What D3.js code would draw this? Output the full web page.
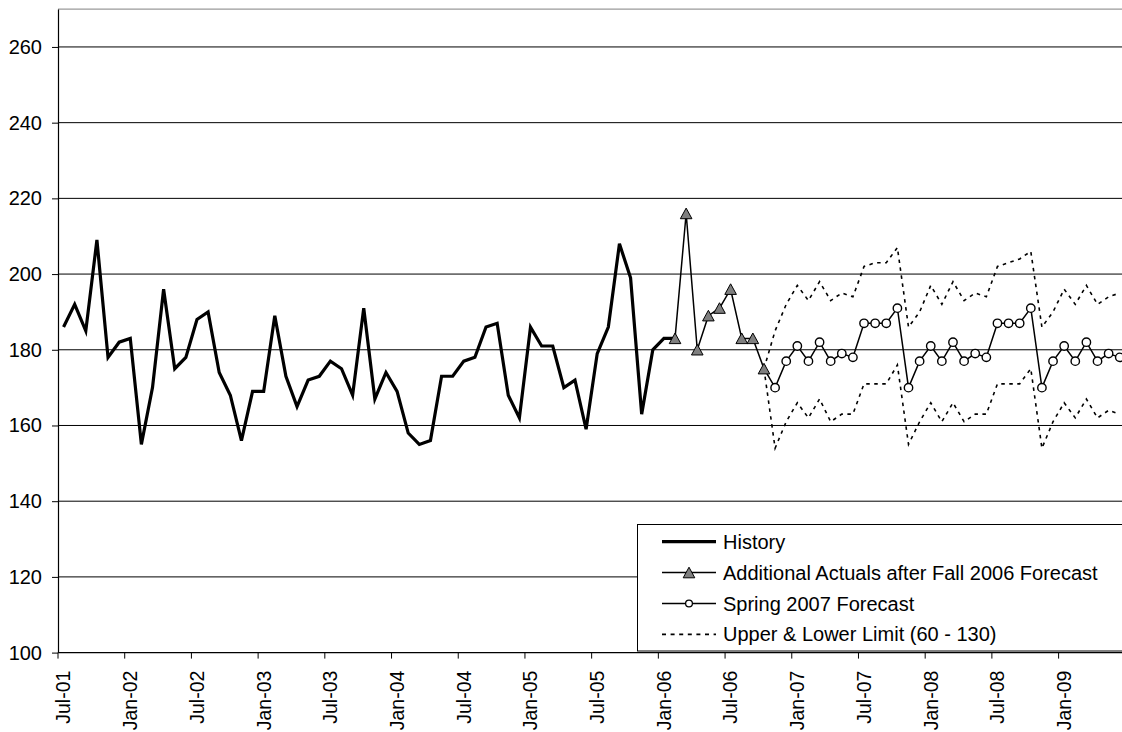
<!DOCTYPE html>
<html>
<head>
<meta charset="utf-8">
<script src="https://cdn.jsdelivr.net/npm/d3@7"></script>
<style>
  html, body { margin: 0; padding: 0; background: #fff; overflow: hidden; }
  svg { display: block; font-family: "Liberation Sans", Arial, sans-serif; }
</style>
</head>
<body>
<svg id="chart" width="1122" height="732"></svg>
<script>
// Monthly categories, Jul-01 through Jun-09
const months = [
  "Jul-01","Aug-01","Sep-01","Oct-01","Nov-01","Dec-01",
  "Jan-02","Feb-02","Mar-02","Apr-02","May-02","Jun-02","Jul-02","Aug-02","Sep-02","Oct-02","Nov-02","Dec-02",
  "Jan-03","Feb-03","Mar-03","Apr-03","May-03","Jun-03","Jul-03","Aug-03","Sep-03","Oct-03","Nov-03","Dec-03",
  "Jan-04","Feb-04","Mar-04","Apr-04","May-04","Jun-04","Jul-04","Aug-04","Sep-04","Oct-04","Nov-04","Dec-04",
  "Jan-05","Feb-05","Mar-05","Apr-05","May-05","Jun-05","Jul-05","Aug-05","Sep-05","Oct-05","Nov-05","Dec-05",
  "Jan-06","Feb-06","Mar-06","Apr-06","May-06","Jun-06","Jul-06","Aug-06","Sep-06","Oct-06","Nov-06","Dec-06",
  "Jan-07","Feb-07","Mar-07","Apr-07","May-07","Jun-07","Jul-07","Aug-07","Sep-07","Oct-07","Nov-07","Dec-07",
  "Jan-08","Feb-08","Mar-08","Apr-08","May-08","Jun-08","Jul-08","Aug-08","Sep-08","Oct-08","Nov-08","Dec-08",
  "Jan-09","Feb-09","Mar-09","Apr-09","May-09","Jun-09"
];

const xTickLabels = ["Jul-01","Jan-02","Jul-02","Jan-03","Jul-03","Jan-04","Jul-04","Jan-05",
                     "Jul-05","Jan-06","Jul-06","Jan-07","Jul-07","Jan-08","Jul-08","Jan-09"];
const yTickValues = [100, 120, 140, 160, 180, 200, 220, 240, 260];

// History: Jul-01 .. Feb-06
const historyStart = "Jul-01";
const historyValues = [
  186,192,185,209,178,182,183,155,170,196,175,178,188,190,174,168,156,169,169,189,
  173,165,172,173,177,175,168,191,167,174,169,158,155,156,173,173,177,178,186,187,
  168,162,186,181,181,170,172,159,179,186,208,199,163,180,183,183
];

// Additional actuals after the Fall 2006 forecast: Feb-06 .. Oct-06
const actualsStart = "Feb-06";
const actualsValues = [183,216,180,189,191,196,183,183,175];

// Spring 2007 forecast and its limits: Oct-06 .. Jun-09
const forecastStart = "Oct-06";
const forecastValues = [
  175,
  170,177,181,177,182,177,179,178,187,187,187,191,
  170,177,181,177,182,177,179,178,187,187,187,191,
  170,177,181,177,182,177,179,178
];
const upperValues = [
  175,
  185,192,197,193,198,193,195,194,202,203,203,207,
  186,190,197,192,198,193,195,194,202,203,204,206,
  186,190,196,192,197,192,194,195
];
const lowerValues = [
  175,
  154,161,166,162,167,161,163,163,171,171,171,176,
  155,161,166,161,166,161,163,163,171,171,171,175,
  154,161,166,162,167,162,164,163
];

const legendLabels = [
  "History",
  "Additional Actuals after Fall 2006 Forecast",
  "Spring 2007 Forecast",
  "Upper & Lower Limit (60 - 130)"
];

(function draw() {
  const svg = d3.select("#chart");
  const plotLeft = 58, plotTop = 9.1, plotBottom = 652.6, plotRight = 1125.3;

  const x = d3.scaleBand().domain(months).range([plotLeft, plotRight]).padding(0);
  const y = d3.scaleLinear().domain([100, 270]).range([plotBottom, plotTop]);
  const bw = x.bandwidth();
  const cx = m => x(m) + bw / 2;

  function series(start, values) {
    const i0 = months.indexOf(start);
    return values.map((v, i) => ({ m: months[i0 + i], v }));
  }
  const historyData = series(historyStart, historyValues);
  const actualsData = series(actualsStart, actualsValues);
  const forecastData = series(forecastStart, forecastValues);
  const upperData = series(forecastStart, upperValues);
  const lowerData = series(forecastStart, lowerValues);

  const line = d3.line().x(d => cx(d.m)).y(d => y(d.v));

  // plot area frame (top edge) and horizontal gridlines
  svg.append("line")
    .attr("x1", plotLeft).attr("x2", plotRight).attr("y1", plotTop).attr("y2", plotTop)
    .attr("stroke", "#808080").attr("stroke-width", 1);

  svg.append("g").selectAll("line")
    .data(yTickValues.filter(v => v > 100))
    .join("line")
    .attr("x1", plotLeft).attr("x2", plotRight)
    .attr("y1", d => y(d)).attr("y2", d => y(d))
    .attr("stroke", "#000").attr("stroke-width", 1);

  // upper & lower limits
  const dash = "3.5,4.5";
  [upperData, lowerData].forEach(data => {
    svg.append("path").datum(data)
      .attr("d", line).attr("fill", "none")
      .attr("stroke", "#000").attr("stroke-width", 1.6)
      .attr("stroke-dasharray", dash);
  });

  // history
  svg.append("path").datum(historyData)
    .attr("d", line).attr("fill", "none")
    .attr("stroke", "#000").attr("stroke-width", 3.2)
    .attr("stroke-linejoin", "miter");

  // forecast
  svg.append("path").datum(forecastData)
    .attr("d", line).attr("fill", "none")
    .attr("stroke", "#000").attr("stroke-width", 1.5);
  svg.append("g").selectAll("circle")
    .data(forecastData.slice(1))
    .join("circle")
    .attr("cx", d => cx(d.m)).attr("cy", d => y(d.v)).attr("r", 4.2)
    .attr("fill", "#fff").attr("stroke", "#000").attr("stroke-width", 1.4);

  // additional actuals
  const tri = "M0,-5.4L5.8,5.2L-5.8,5.2Z";
  svg.append("path").datum(actualsData)
    .attr("d", line).attr("fill", "none")
    .attr("stroke", "#000").attr("stroke-width", 1.5);
  svg.append("g").selectAll("path")
    .data(actualsData)
    .join("path")
    .attr("d", tri)
    .attr("transform", d => `translate(${cx(d.m)},${y(d.v)})`)
    .attr("fill", "#7f7f7f").attr("stroke", "#000").attr("stroke-width", 1);

  // y axis
  const yAxis = svg.append("g")
    .attr("transform", `translate(${plotLeft},0)`)
    .call(d3.axisLeft(y).tickValues(yTickValues).tickSize(6).tickSizeOuter(0).tickPadding(10));
  yAxis.select(".domain").attr("stroke", "#000").attr("stroke-width", 1.2);
  yAxis.selectAll(".tick line").attr("stroke", "#000");
  yAxis.selectAll(".tick text")
    .attr("font-size", 20).attr("fill", "#000")
    .attr("font-family", "'Liberation Sans', Arial, sans-serif");

  // x axis: ticks on category boundaries, labels at category centres
  const xAxis = svg.append("g").attr("transform", `translate(0,${plotBottom})`);
  xAxis.append("line")
    .attr("x1", plotLeft).attr("x2", plotRight).attr("y1", 0).attr("y2", 0)
    .attr("stroke", "#000").attr("stroke-width", 1.2);
  xAxis.selectAll("line.tick")
    .data(xTickLabels)
    .join("line").attr("class", "tick")
    .attr("x1", d => x(d)).attr("x2", d => x(d))
    .attr("y1", 0).attr("y2", 6)
    .attr("stroke", "#000");
  xAxis.selectAll("text")
    .data(xTickLabels)
    .join("text")
    .attr("transform", d => `translate(${cx(d)},18) rotate(-90)`)
    .attr("dy", "0.35em")
    .attr("text-anchor", "end")
    .attr("font-size", 19.5).attr("fill", "#000")
    .text(d => d);

  // legend
  const lg = svg.append("g");
  lg.append("rect")
    .attr("x", 637.5).attr("y", 524.5).attr("width", 520).attr("height", 126.5)
    .attr("fill", "#fff").attr("stroke", "#000").attr("stroke-width", 1);
  const rowY = i => 541.7 + i * 30.9;
  const lx1 = 662, lx2 = 716, lmx = 689;
  lg.append("line").attr("x1", lx1).attr("x2", lx2).attr("y1", rowY(0)).attr("y2", rowY(0))
    .attr("stroke", "#000").attr("stroke-width", 3.2);
  lg.append("line").attr("x1", lx1).attr("x2", lx2).attr("y1", rowY(1)).attr("y2", rowY(1))
    .attr("stroke", "#000").attr("stroke-width", 1.5);
  lg.append("path").attr("d", tri).attr("transform", `translate(${lmx},${rowY(1)})`)
    .attr("fill", "#7f7f7f").attr("stroke", "#000").attr("stroke-width", 1);
  lg.append("line").attr("x1", lx1).attr("x2", lx2).attr("y1", rowY(2)).attr("y2", rowY(2))
    .attr("stroke", "#000").attr("stroke-width", 1.5);
  lg.append("circle").attr("cx", lmx).attr("cy", rowY(2)).attr("r", 3.4)
    .attr("fill", "#fff").attr("stroke", "#000").attr("stroke-width", 1.3);
  lg.append("line").attr("x1", lx1).attr("x2", lx2).attr("y1", rowY(3)).attr("y2", rowY(3))
    .attr("stroke", "#000").attr("stroke-width", 1.6).attr("stroke-dasharray", "4,4.6");
  lg.selectAll("text")
    .data(legendLabels)
    .join("text")
    .attr("x", 723).attr("y", (d, i) => rowY(i))
    .attr("dy", "0.35em")
    .attr("font-size", 20).attr("fill", "#000")
    .text(d => d);
})();
</script>
</body>
</html>
